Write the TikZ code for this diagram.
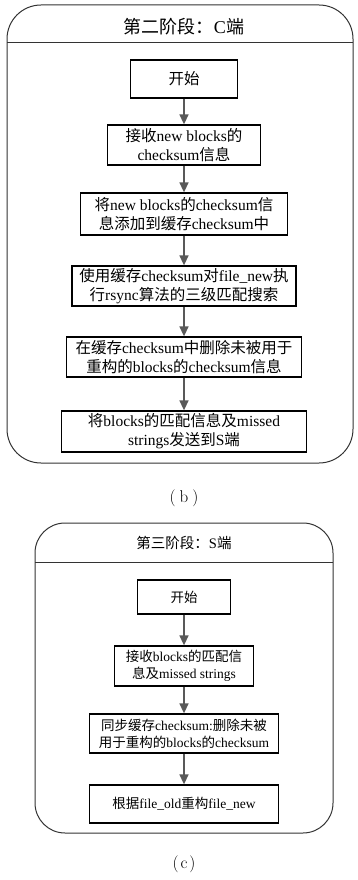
\documentclass[tikz,border=0pt]{standalone}
\usepackage{fontspec}
\usetikzlibrary{arrows.meta}
\newfontfamily\cjk{Noto Sans CJK SC}
\newfontfamily\tms{Liberation Serif}
\newcommand\zh[1]{{\cjk #1}}
\tikzset{
  panel/.style={draw=black!80, line width=1pt},
  boxb/.style={draw=black, line width=1.3pt, align=center, inner sep=1pt,
    font=\tms\fontsize{15.5}{19}\selectfont},
  boxc/.style={draw=black, line width=1.3pt, align=center, inner sep=1pt,
    font=\tms\fontsize{13.5}{17}\selectfont},
  arr/.style={draw=black!65, line width=1.5pt, -{Triangle[length=10pt,width=9pt]}},
  captext/.style={inner sep=0pt, font=\fontsize{17}{20}\selectfont}
}
\begin{document}
\begin{tikzpicture}[x=1pt,y=-1pt]
\useasboundingbox (0,0) rectangle (358,880);
% panel (b)
\draw[panel, rounded corners=34pt] (7,5) rectangle (353,463);
\draw[panel] (7,43) -- (353,43);
\node[inner sep=0pt, font=\fontsize{18}{20}\selectfont] (tb) at (184,27) {\zh{第二阶段：}{\tms C}\zh{端}};
\node[boxb, minimum width=107pt, minimum height=38pt] (b1) at (184,79) {\zh{开始}};
\node[boxb, minimum width=153pt, minimum height=40pt] (b2) at (184,145) {\zh{接收}new blocks\zh{的}\\checksum\zh{信息}};
\node[boxb, minimum width=207pt, minimum height=42pt] (b3) at (184,214) {\zh{将}new blocks\zh{的}checksum\zh{信}\\\zh{息添加到缓存}checksum\zh{中}};
\node[boxb, minimum width=224pt, minimum height=40pt] (b4) at (184,286) {\zh{使用缓存}checksum\zh{对}file\_new\zh{执}\\\zh{行}rsync\zh{算法的三级匹配搜索}};
\node[boxb, minimum width=235pt, minimum height=40pt] (b5) at (184,357) {\zh{在缓存}checksum\zh{中删除未被用于}\\\zh{重构的}blocks\zh{的}checksum\zh{信息}};
\node[boxb, minimum width=245pt, minimum height=41pt] (b6) at (184,431.5) {\zh{将}blocks\zh{的匹配信息及}missed\\strings\zh{发送到}S\zh{端}};
\draw[arr] (b1) -- (b2);
\draw[arr] (b2) -- (b3);
\draw[arr] (b3) -- (b4);
\draw[arr] (b4) -- (b5);
\draw[arr] (b5) -- (b6);
\node[captext] (capb) at (184,498) {(\kern4pt b\kern4pt)};
% panel (c)
\draw[panel, rounded corners=30pt] (35,523) rectangle (333,833);
\draw[panel] (35,562) -- (333,562);
\node[inner sep=0pt, font=\fontsize{14.5}{17}\selectfont] (tc) at (184,543) {\zh{第三阶段：}{\tms S}\zh{端}};
\node[boxc, minimum width=93pt, minimum height=34pt] (c1) at (184,597) {\zh{开始}};
\node[boxc, minimum width=139pt, minimum height=40pt] (c2) at (184,666) {\zh{接收}blocks\zh{的匹配信}\\\zh{息及}missed strings};
\node[boxc, minimum width=189pt, minimum height=39pt] (c3) at (184,733.5) {\zh{同步缓存}checksum:\zh{删除未被}\\\zh{用于重构的}blocks\zh{的}checksum};
\node[boxc, minimum width=189pt, minimum height=38pt] (c4) at (184,804) {\zh{根据}file\_old\zh{重构}file\_new};
\draw[arr] (c1) -- (c2);
\draw[arr] (c2) -- (c3);
\draw[arr] (c3) -- (c4);
\node[captext] (capc) at (184,864) {(\kern2pt c\kern2pt)};
\end{tikzpicture}
\end{document}
